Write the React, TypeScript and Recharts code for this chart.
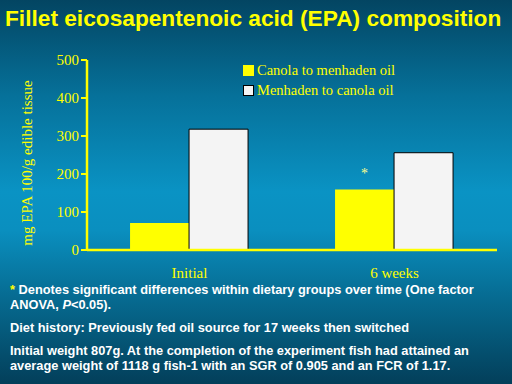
import { Bar, BarChart, LabelList, Legend, XAxis, YAxis } from "recharts";

const categories = ["Initial", "6 weeks"];
const canolaToMenhaden = [71, 159];
const menhadenToCanola = [318, 256];
const significance = ["", "*"];
const yTicks = [0, 100, 200, 300, 400, 500];

const notes = [
  "* Denotes significant differences within dietary groups over time (One factor",
  "ANOVA, P<0.05).",
];
const dietHistory = "Diet history: Previously fed oil source for 17 weeks then switched";
const weightNotes = [
  "Initial weight 807g. At the completion of the experiment fish had attained an",
  "average weight of 1118 g fish-1 with an SGR of 0.905 and an FCR of 1.17.",
];

const data = categories.map((c, i) => ({
  name: c,
  canola: canolaToMenhaden[i],
  menhaden: menhadenToCanola[i],
  sig: significance[i],
}));

const yellow = "#ffff00";
const white = "#f4f4f4";
const serif = "'Liberation Serif', 'Times New Roman', serif";
const sans = "'Liberation Sans', Arial, sans-serif";

// legend drawn as a plain vertical list so it does not eat into the plot area
function LegendList({ payload }: { payload?: any[] }) {
  return (
    <div>
      {(payload || []).map((p) => (
        <div key={p.value} style={{ display: "flex", alignItems: "center", height: 20 }}>
          <span
            style={{
              display: "inline-block",
              width: 9,
              height: 9,
              background: p.color,
              border: p.color === white ? "1px solid #000" : "1px solid " + yellow,
              marginRight: 3,
            }}
          />
          <span style={{ color: yellow, fontFamily: serif, fontSize: 14.5 }}>{p.value}</span>
        </div>
      ))}
    </div>
  );
}

export default function App() {
  return (
    <div
      style={{
        position: "absolute",
        left: 0,
        top: 0,
        width: 512,
        height: 384,
        overflow: "hidden",
        background:
          "linear-gradient(to bottom, #034562 0%, #06719a 25%, #0a93c4 50%, #0a8fbf 60%, #066a90 78%, #033f5a 100%)",
      }}
    >
      <div
        style={{
          position: "absolute",
          left: 5,
          top: 5,
          fontFamily: sans,
          fontWeight: "bold",
          fontSize: 22.7,
          color: yellow,
          whiteSpace: "nowrap",
        }}
      >
        Fillet eicosapentenoic acid (EPA) composition
      </div>
      <div style={{ position: "absolute", left: 0, top: 0 }}>
        <BarChart
          width={512}
          height={384}
          data={data}
          margin={{ top: 60, right: 15, left: 0, bottom: 104 }}
          barCategoryGap="21%"
          barGap={0}
        >
          <XAxis
            dataKey="name"
            height={30}
            axisLine={{ stroke: yellow, strokeWidth: 2.5 }}
            tickLine={false}
            tick={{ fill: yellow, fontFamily: serif, fontSize: 15 }}
            tickMargin={11}
          />
          <YAxis
            width={87}
            domain={[0, 500]}
            ticks={yTicks}
            interval={0}
            axisLine={{ stroke: yellow, strokeWidth: 2.5 }}
            tickLine={{ stroke: yellow, strokeWidth: 2 }}
            tickSize={6}
            tick={{ fill: yellow, fontFamily: serif, fontSize: 15 }}
            label={{
              value: "mg EPA 100/g edible tissue",
              angle: -90,
              position: "insideLeft",
              dx: 22,
              dy: 8,
              style: { textAnchor: "middle", fill: yellow, fontFamily: serif, fontSize: 15 },
            }}
          />
          <Legend
            layout="horizontal"
            verticalAlign="middle"
            align="center"
            content={<LegendList />}
            wrapperStyle={{ left: 243, top: 60, width: 260 }}
            payload={[
              { value: "Canola to menhaden oil", type: "square", color: yellow, id: "c" },
              { value: "Menhaden to canola oil", type: "square", color: white, id: "m" },
            ]}
          />
          <Bar dataKey="canola" name="Canola to menhaden oil" fill={yellow} isAnimationActive={false}>
            <LabelList
              dataKey="sig"
              position="top"
              offset={12}
              style={{ fill: "#ffff90", fontFamily: serif, fontSize: 14 }}
            />
          </Bar>
          <Bar
            dataKey="menhaden"
            name="Menhaden to canola oil"
            fill={white}
            stroke="#000000"
            strokeWidth={1}
            isAnimationActive={false}
          />
        </BarChart>
      </div>
      <div
        style={{
          position: "absolute",
          left: 10,
          top: 282,
          width: 500,
          fontFamily: sans,
          fontWeight: "bold",
          fontSize: 12.8,
          color: "#ffffff",
          lineHeight: "15px",
          whiteSpace: "nowrap",
        }}
      >
        <div>
          <span style={{ color: yellow }}>*</span>
          {notes[0].slice(1)}
        </div>
        <div>
          ANOVA, <i>P</i>&lt;0.05).
        </div>
        <div style={{ marginTop: 8 }}>{dietHistory}</div>
        <div style={{ marginTop: 8 }}>{weightNotes[0]}</div>
        <div>{weightNotes[1]}</div>
      </div>
    </div>
  );
}
